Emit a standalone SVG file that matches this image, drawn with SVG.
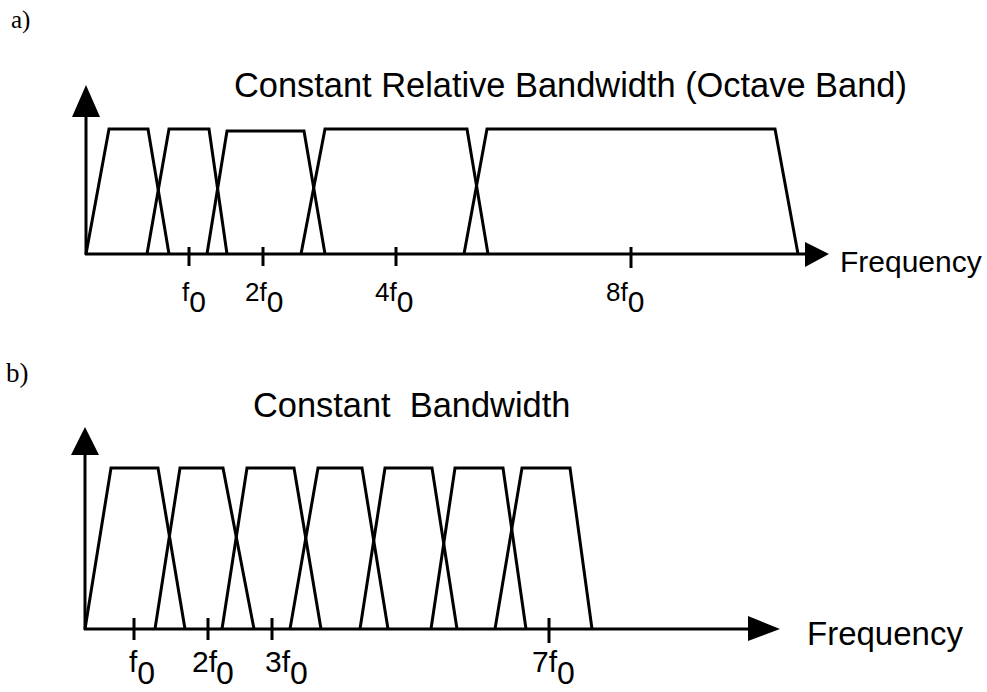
<svg xmlns="http://www.w3.org/2000/svg" width="987" height="692" viewBox="0 0 987 692">
<style>
.ln{fill:none;stroke:#000;stroke-width:3;stroke-linejoin:miter;stroke-linecap:butt}
.ah{fill:#000;stroke:none}
.t{font-family:"Liberation Sans",Arial,sans-serif;fill:#000}
.ttl{font-size:34.4px;white-space:pre}
.fq{font-size:30px}
.la{font-size:26px}
.sa{font-size:30px}
.lb{font-size:30px}
.sb{font-size:32px}
.pl{font-family:"Liberation Serif","Times New Roman",serif;fill:#000}
</style>
<rect width="987" height="692" fill="#fff"/>

<g id="panel-a">
  <text class="pl" x="11" y="28" style="font-size:25px">a)</text>
  <text class="t ttl" x="234" y="97">Constant Relative Bandwidth (Octave Band)</text>
  <g id="axes-a">
    <line class="ln" x1="86" y1="255" x2="86" y2="112"/>
    <polygon class="ah" points="86,85 100,117 72,117"/>
    <line class="ln" x1="85" y1="254" x2="808" y2="254"/>
    <polygon class="ah" points="805,242 829,254 805,267"/>
    <text class="t fq" x="840" y="272">Frequency</text>
  </g>
  <g id="bands-a">
    <polyline class="ln" points="86,254 109,129 148,129 169,254"/>
    <polyline class="ln" points="147,254 169,129 209,129 227,254"/>
    <polyline class="ln" points="207,254 227,131 304,131 325,254"/>
    <polyline class="ln" points="301,254 325,129 467,129 488,254"/>
    <polyline class="ln" points="464,254 487,129 775,129 798,254"/>
  </g>
  <g id="ticks-a">
    <line class="ln" x1="189" y1="247" x2="189" y2="266"/>
    <line class="ln" x1="263" y1="247" x2="263" y2="266"/>
    <line class="ln" x1="396" y1="247" x2="396" y2="266"/>
    <line class="ln" x1="631" y1="247" x2="631" y2="268"/>
    <text class="t la" x="182" y="301">f<tspan class="sa" dx="0" dy="11">0</tspan></text>
    <text class="t la" x="245" y="301">2f<tspan class="sa" dx="0" dy="11">0</tspan></text>
    <text class="t la" x="375" y="301">4f<tspan class="sa" dx="0" dy="11">0</tspan></text>
    <text class="t la" x="606" y="301">8f<tspan class="sa" dx="0" dy="11">0</tspan></text>
  </g>
</g>

<g id="panel-b">
  <text class="pl" x="6" y="382" style="font-size:27px">b)</text>
  <text class="t ttl" x="253" y="417">Constant  Bandwidth</text>
  <g id="axes-b">
    <line class="ln" x1="85" y1="630" x2="85" y2="450"/>
    <polygon class="ah" points="85,427 99,455 71,455"/>
    <line class="ln" x1="84" y1="629" x2="752" y2="629"/>
    <polygon class="ah" points="748,616 780,629 748,641"/>
    <text class="t" x="807" y="645" style="font-size:33px">Frequency</text>
  </g>
  <g id="bands-b">
    <polyline class="ln" points="85,629 111,468 158,468 185,629"/>
    <polyline class="ln" points="155,629 180,468 223,468 254,629"/>
    <polyline class="ln" points="222,629 247,468 294,468 321,629"/>
    <polyline class="ln" points="290,629 318,468 362,468 388,629"/>
    <polyline class="ln" points="360,629 385,468 432,468 457,629"/>
    <polyline class="ln" points="431,629 455,468 503,468 526,629"/>
    <polyline class="ln" points="495,629 522,468 570,468 592,629"/>
  </g>
  <g id="ticks-b">
    <line class="ln" x1="134" y1="618" x2="134" y2="640"/>
    <line class="ln" x1="208" y1="618" x2="208" y2="640"/>
    <line class="ln" x1="272" y1="618" x2="272" y2="640"/>
    <line class="ln" x1="549" y1="618" x2="549" y2="643"/>
    <text class="t lb" x="129" y="672">f<tspan class="sb" dx="0" dy="12">0</tspan></text>
    <text class="t lb" x="192" y="672">2f<tspan class="sb" dx="-1" dy="12">0</tspan></text>
    <text class="t lb" x="265" y="672">3f<tspan class="sb" dx="0" dy="12">0</tspan></text>
    <text class="t lb" x="532" y="672">7f<tspan class="sb" dx="0" dy="12">0</tspan></text>
  </g>
</g>
</svg>
